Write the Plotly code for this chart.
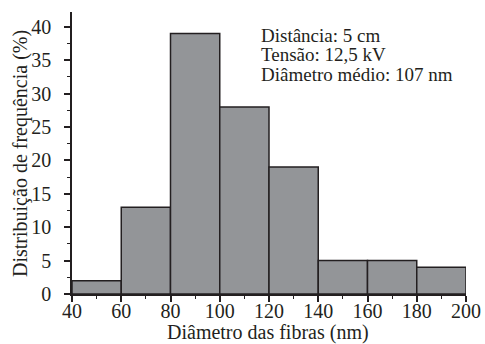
import plotly.graph_objects as go

bin_edges = [40, 60, 80, 100, 120, 140, 160, 180, 200]
freq = [2, 13, 39, 28, 19, 5, 5, 4]
x_ticks = [40, 60, 80, 100, 120, 140, 160, 180, 200]
y_ticks = [0, 5, 10, 15, 20, 25, 30, 35, 40]
info_lines = ["Distância: 5 cm", "Tensão: 12,5 kV", "Diâmetro médio: 107 nm"]
x_title = "Diâmetro das fibras (nm)"
y_title = "Distribuição de frequência (%)"

centers = [(a + b) / 2 for a, b in zip(bin_edges[:-1], bin_edges[1:])]
widths = [b - a for a, b in zip(bin_edges[:-1], bin_edges[1:])]

FONT = "Liberation Serif"
INK = "#231f20"
FS = 20

fig = go.Figure(go.Bar(
    x=centers, y=freq, width=widths,
    marker=dict(color="#939598", line=dict(color=INK, width=1.5)),
))

fig.update_layout(
    width=485, height=344,
    margin=dict(l=72, r=19, t=12, b=50),
    paper_bgcolor="white", plot_bgcolor="white",
    font=dict(family=FONT, size=FS, color=INK),
    showlegend=False,
    xaxis=dict(
        range=[40, 200], tickvals=x_ticks, ticks="outside", ticklen=6,
        tickwidth=1.5, tickcolor=INK, automargin=False,
        showline=True, linecolor=INK, linewidth=1.5,
        showgrid=False, zeroline=False, ticklabelstandoff=-8,
        minor=dict(dtick=10, tick0=40, ticks="outside", ticklen=3, tickcolor=INK, tickwidth=1.2),
        tickfont=dict(size=FS),
    ),
    yaxis=dict(
        range=[0, 42.2], tickvals=y_ticks, ticks="outside", ticklen=6,
        tickwidth=1.5, tickcolor=INK, automargin=False,
        showline=True, linecolor=INK, linewidth=1.5,
        showgrid=False, zeroline=False, ticklabelstandoff=9,
        minor=dict(dtick=2.5, tick0=0, ticks="outside", ticklen=3, tickcolor=INK, tickwidth=1.2),
        tickfont=dict(size=FS),
    ),
)

# axis titles
fig.add_annotation(x=0.497, y=-0.136, xref="paper", yref="paper",
                   xanchor="center", yanchor="middle", text=x_title, showarrow=False,
                   font=dict(family=FONT, size=FS, color=INK))
fig.add_annotation(x=-0.132, y=0.5, xref="paper", yref="paper",
                   xanchor="center", yanchor="middle", text=y_title, showarrow=False,
                   textangle=-90, font=dict(family=FONT, size=FS, color=INK))

ys = [0.918, 0.848, 0.777]
for line, yv in zip(info_lines, ys):
    fig.add_annotation(
        x=0.475, y=yv, xref="paper", yref="paper", xanchor="left", yanchor="middle",
        text=line, showarrow=False, align="left",
        font=dict(family=FONT, size=19, color=INK),
    )

fig.write_html("out.html", config={"displayModeBar": False},
               post_script="document.body.style.margin='0';")
